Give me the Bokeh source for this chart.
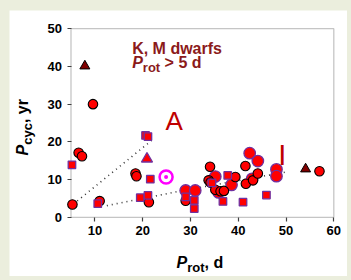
import math
from bokeh.plotting import figure
from bokeh.models import Label, FixedTicker, BoxAnnotation
from bokeh.embed import file_html
from bokeh.resources import INLINE

# ---- data ----
# red circles, black outline
blk_x = [5.3, 6.6, 7.3, 9.6, 11.0, 18.5, 18.7, 21.3, 29.0, 33.8, 34.1, 34.2, 35.2, 36.3, 37.0, 39.4, 41.5, 41.6, 43.1, 44.1, 57.0]
blk_y = [3.4, 17.1, 16.2, 30.0, 4.3, 11.6, 10.9, 4.0, 4.4, 9.8, 13.4, 9.2, 7.3, 6.9, 7.0, 10.7, 13.6, 8.9, 9.8, 11.6, 12.2]
# larger red circles, purple outline
pur_x = [29.0, 31.0, 35.2, 35.9, 38.6, 42.4, 44.1, 42.9, 48.0, 48.0]
pur_y = [7.1, 7.1, 10.8, 6.6, 8.6, 17.0, 14.9, 10.2, 12.7, 10.9]
# red squares, purple outline
sq_x = [5.2, 10.6, 19.5, 20.6, 21.1, 21.1, 21.6, 29.0, 30.8, 30.8, 34.5, 36.8, 37.8, 41.0, 45.9]
sq_y = [13.9, 3.6, 5.2, 21.7, 21.4, 5.8, 10.1, 5.4, 4.5, 2.3, 9.1, 4.2, 11.1, 4.0, 5.9]
# red triangle, purple outline
tri_x = [20.9]
tri_y = [15.5]
# dark red triangles
dtri_x = [7.9, 54.1]
dtri_y = [40.1, 12.8]
# the Sun
sun_x = [24.9]
sun_y = [10.7]
# dotted branches
brA_x = [5.5, 22.0]
brA_y = [3.5, 20.5]
brI_x = [12.5, 28.0, 50.0]
brI_y = [3.1, 7.0, 12.0]

x_ticks = [10, 20, 30, 40, 50, 60]
y_ticks = [0, 10, 20, 30, 40, 50]
X_LO, X_HI = 5, 60
Y_LO, Y_HI = 0, 50

FONT = "Liberation Sans"
RED = "#FF0000"
PURPLE = "#7030A0"
DARKRED = "#7F0000"
LABELRED = "#C00000"
TEXTRED = "#8B1A1A"

# canvas 338x266; plot box spans px 61.5..324.3 (x) and 18.2..206.8 (y)
CW, CH = 338, 266
BL, BR, BT, BB = 61.5, 324.3, 18.2, 206.8
sx = (BR - BL) / (X_HI - X_LO)
sy = (BB - BT) / (Y_HI - Y_LO)
x_range = (X_LO - BL / sx, X_HI + (CW - BR) / sx)
y_range = (Y_LO - (CH - BB) / sy, Y_HI + BT / sy)

p = figure(width=CW, height=CH, x_range=x_range, y_range=y_range,
           min_border=0, min_border_left=0, min_border_right=0, min_border_top=0, min_border_bottom=0,
           output_backend="svg", toolbar_location=None,
           background_fill_color="white", border_fill_color="white")
p.title.visible = False
p.grid.visible = False
p.outline_line_color = None

p.xaxis.fixed_location = Y_LO
p.yaxis.fixed_location = X_LO
p.xaxis.bounds = (X_LO, X_HI)
p.yaxis.bounds = (Y_LO, Y_HI)
for ax, ticks in ((p.xaxis, x_ticks), (p.yaxis, y_ticks)):
    ax.ticker = FixedTicker(ticks=ticks)
    ax.major_label_text_font = FONT
    ax.major_label_text_font_style = "bold"
    ax.major_label_text_font_size = "13px"
    ax.major_label_text_color = "black"
    ax.axis_line_color = None
    ax.major_tick_line_color = "#404040"
    ax.major_tick_line_width = 1.2
    ax.major_tick_out = 4
    ax.major_tick_in = 0
    ax.minor_tick_line_color = None
    ax.major_label_standoff = 5

# plot box
p.add_layout(BoxAnnotation(left=X_LO, right=X_HI, bottom=Y_LO, top=Y_HI, fill_color=None,
                           line_color="#404040", line_width=1.3, level="underlay"))

# dotted lines
p.line(brA_x, brA_y, line_color="#333333", line_width=1.6, line_dash="1 4")
p.line(brI_x, brI_y, line_color="#333333", line_width=1.6, line_dash="1 4")

p.scatter(pur_x, pur_y, marker="circle", size=11.5, fill_color=RED, line_color=PURPLE, line_width=1.3)
p.scatter(blk_x, blk_y, marker="circle", size=9.5, fill_color=RED, line_color="black", line_width=1.1)
p.scatter(sq_x, sq_y, marker="square", size=7.5, fill_color=RED, line_color=PURPLE, line_width=1.3)
p.scatter(tri_x, tri_y, marker="triangle", size=11, fill_color=RED, line_color=PURPLE, line_width=1.3)
p.scatter(dtri_x, dtri_y, marker="triangle", size=10, fill_color=DARKRED, line_color="black", line_width=1)
p.scatter(sun_x, sun_y, marker="circle", size=13, fill_color="white", line_color="#FF00FF", line_width=2.5)
p.scatter(sun_x, sun_y, marker="circle", size=4, fill_color="#FF00FF", line_color="#FF00FF", line_width=0)

# Arial-bold advance widths (em)
W = {"P": 0.667, "c": 0.556, "y": 0.556, "r": 0.389, "o": 0.611, "t": 0.333,
     ",": 0.278, " ": 0.278, "d": 0.611, ">": 0.584, "5": 0.556}
BASE = 0.3  # empirical baseline correction (em)

def width(s, fs):
    return sum(W.get(ch, 0.556) for ch in s) * fs

def lab(x, y, text, fs, color, style="bold", xo=0.0, yo=0.0, angle=0.0):
    if angle == 0.0:
        yo += BASE * fs
    else:
        xo -= BASE * fs
    p.add_layout(Label(x=x, y=y, x_offset=xo, y_offset=yo, text=text, angle=angle,
                       text_font=FONT, text_font_style=style, text_font_size=f"{fs}px",
                       text_color=color, text_align="left", text_baseline="alphabetic"))

def sublabel(x, y, parts, color, angle=0.0):
    """parts: list of (text, size, italic, drop)"""
    adv = 0.0
    for text, fs, italic, drop in parts:
        style = "bold italic" if italic else "bold"
        while text.startswith(" "):
            adv += width(" ", fs)
            text = text[1:]
        if angle == 0.0:
            lab(x, y, text, fs, color, style, xo=adv, yo=-drop)
        else:
            lab(x, y, text, fs, color, style, xo=drop, yo=adv, angle=angle)
        adv += width(text, fs)

# annotation text
lab(17.8, 43.5, "K, M dwarfs", 16, TEXTRED)
sublabel(17.8, 39.8, [("P", 16, True, 0), ("rot", 13, False, 4), (" > 5 d", 16, False, 0)], TEXTRED)

lab(24.8, 23.5, "A", 26, LABELRED, style="normal")
lab(48.4, 14.2, "I", 29, LABELRED, style="normal")

# axis titles
sublabel(27.1, -13.3, [("P", 16, True, 0), ("rot", 13, False, 3.5), (", d", 16, False, 0)], "black")
sublabel(-4.1, 16.4, [("P", 16, True, 0), ("cyc", 13, False, 4), (", yr", 16, False, 0)], "black",
         angle=math.pi / 2)

html = file_html(p, INLINE)
html = html.replace("</head>",
                    "<style>html,body{margin:0;}body{background-color:#EBEEDD;padding:10px 0 0 9px;}</style></head>", 1)
open("out.html", "w").write(html)
